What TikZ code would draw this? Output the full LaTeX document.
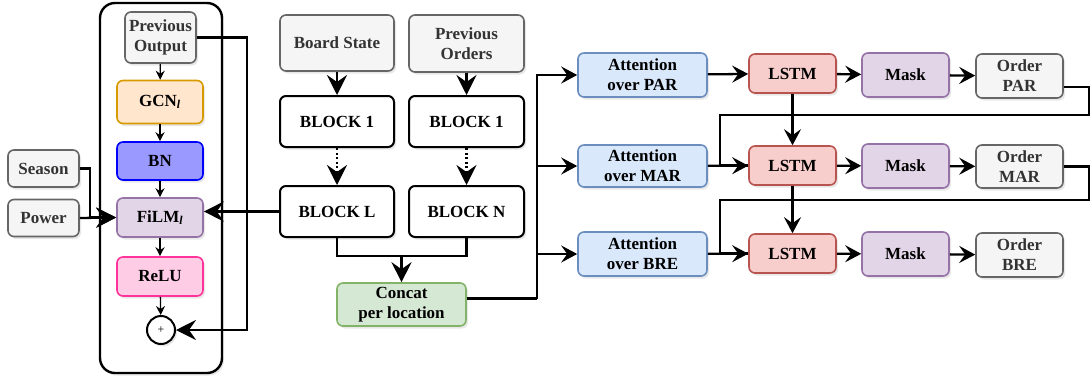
\documentclass[tikz,border=0pt]{standalone}
\usepackage{fontspec}
\setmainfont{Liberation Serif}
\usetikzlibrary{arrows.meta,shadows,calc}
\definecolor{grayfill}{HTML}{F5F5F5}
\definecolor{graydraw}{HTML}{666666}
\definecolor{graytext}{HTML}{333333}
\definecolor{orfill}{HTML}{FFE6CC}
\definecolor{ordraw}{HTML}{D79B00}
\definecolor{bnfill}{HTML}{9999FF}
\definecolor{bndraw}{HTML}{0000FF}
\definecolor{pufill}{HTML}{E1D5E7}
\definecolor{pudraw}{HTML}{9673A6}
\definecolor{pkfill}{HTML}{FFCCE6}
\definecolor{pkdraw}{HTML}{FF3399}
\definecolor{gnfill}{HTML}{D5E8D4}
\definecolor{gndraw}{HTML}{82B366}
\definecolor{blfill}{HTML}{DAE8FC}
\definecolor{bldraw}{HTML}{6C8EBF}
\definecolor{rdfill}{HTML}{F8CECC}
\definecolor{rddraw}{HTML}{B85450}
\begin{document}
\begin{tikzpicture}[x=1pt,y=-1pt,
  box/.style={draw, line width=1.6pt, rounded corners=6pt, align=center,
    font=\fontsize{17}{20}\selectfont\bfseries, inner sep=0pt,
    drop shadow={shadow xshift=2pt, shadow yshift=-2.5pt, opacity=0.18}},
  graybox/.style={box, fill=grayfill, draw=graydraw, text=graytext},
  orbox/.style={box, fill=orfill, draw=ordraw},
  bnbox/.style={box, fill=bnfill, draw=bndraw},
  pubox/.style={box, fill=pufill, draw=pudraw},
  pkbox/.style={box, fill=pkfill, draw=pkdraw},
  gnbox/.style={box, fill=gnfill, draw=gndraw},
  blbox/.style={box, fill=blfill, draw=bldraw},
  rdbox/.style={box, fill=rdfill, draw=rddraw},
  wbox/.style={box, fill=white, draw=black, line width=2pt},
  conn/.style={draw=black, line width=2.3pt},
  bigarr/.style={conn, -{Stealth[length=20pt,width=20pt,inset=7pt]}},
  medarr/.style={conn, -{Stealth[length=16pt,width=17pt,inset=6pt]}},
  smallarr/.style={draw=black, line width=1.3pt, -{Stealth[length=9pt,width=9pt,inset=3pt]}},
  dotarr/.style={bigarr, dash pattern=on 2pt off 2.5pt}
]
\useasboundingbox (0,0) rectangle (1090,381);

% container
\draw[line width=2.4pt, rounded corners=15pt, fill=white,
  drop shadow={shadow xshift=2pt, shadow yshift=-2.5pt, opacity=0.18}]
  (100,3) rectangle (222,373);

% left column
\node[graybox, minimum width=71, minimum height=51] (prevout) at (160.5,37.5) {Previous\\Output};
\node[orbox, minimum width=86, minimum height=43] (gcn) at (160,102) {GCN\textsubscript{\textit{l}}};
\node[bnbox, minimum width=86, minimum height=38] (bn) at (160,161) {BN};
\node[pubox, minimum width=86, minimum height=39] (film) at (160,217.5) {FiLM\textsubscript{\textit{l}}};
\node[pkbox, minimum width=86, minimum height=39] (relu) at (160,276.5) {ReLU};
\node[circle, draw, line width=2pt, fill=white, minimum size=28, inner sep=0pt,
  font=\fontsize{12}{12}\selectfont,
  drop shadow={shadow xshift=2pt, shadow yshift=-2.5pt, opacity=0.18}] (plus) at (161,330) {+};

\node[graybox, minimum width=71, minimum height=37] (season) at (43.5,168.5) {Season};
\node[graybox, minimum width=71, minimum height=37] (power) at (43.5,218) {Power};

% middle
\node[graybox, minimum width=114, minimum height=56] (board) at (337,43) {Board State};
\node[graybox, minimum width=115, minimum height=57] (prevord) at (466.5,43.5) {Previous\\Orders};
\node[wbox, minimum width=114, minimum height=51] (b1a) at (337,121.5) {BLOCK 1};
\node[wbox, minimum width=115, minimum height=51] (b1b) at (466.5,121.5) {BLOCK 1};
\node[wbox, minimum width=114, minimum height=51] (bL) at (337,211.5) {BLOCK L};
\node[wbox, minimum width=115, minimum height=51] (bN) at (466.5,211.5) {BLOCK N};
\node[gnbox, minimum width=129, minimum height=43] (concat) at (401.5,304.5) {Concat\\per location};

% right
\node[blbox, minimum width=129, minimum height=44] (apar) at (642.5,75) {Attention\\over PAR};
\node[blbox, minimum width=129, minimum height=42] (amar) at (642.5,166) {Attention\\over MAR};
\node[blbox, minimum width=129, minimum height=44] (abre) at (642.5,254) {Attention\\over BRE};
\node[rdbox, minimum width=87, minimum height=39] (lpar) at (792.5,73.5) {LSTM};
\node[rdbox, minimum width=87, minimum height=39] (lmar) at (792.5,165.5) {LSTM};
\node[rdbox, minimum width=87, minimum height=39] (lbre) at (792.5,253.5) {LSTM};
\node[pubox, minimum width=87, minimum height=44] (mpar) at (905.5,75) {Mask};
\node[pubox, minimum width=87, minimum height=44] (mmar) at (905.5,166) {Mask};
\node[pubox, minimum width=87, minimum height=44] (mbre) at (905.5,254) {Mask};
\node[graybox, minimum width=87, minimum height=44] (opar) at (1019.5,76) {Order\\PAR};
\node[graybox, minimum width=87, minimum height=43] (omar) at (1019.5,166.5) {Order\\MAR};
\node[graybox, minimum width=87, minimum height=44] (obre) at (1019.5,255) {Order\\BRE};

% left column connectors
\draw[smallarr] (prevout) -- (gcn);
\draw[smallarr] (gcn) -- (bn);
\draw[smallarr] (bn) -- (film);
\draw[smallarr] (film) -- (relu);
\draw[smallarr] (relu) -- (plus);
\draw[bigarr] (prevout.east) -- ++(50,0) |- (plus.east);
\draw[bigarr] (season.east) -- ++(10,0) |- (film.west);
\draw[bigarr] (power.east) -- (film.west);
\draw[bigarr] (bL.west) -- (bL.west -| film.east);

% middle connectors
\draw[bigarr] (board) -- (b1a);
\draw[bigarr] (prevord) -- (b1b);
\draw[dotarr] (b1a) -- (bL);
\draw[dotarr] (b1b) -- (bN);
\coordinate (m) at (401.5,256);
\draw[conn] (bL.south) |- (m) -| (bN.south);
\draw[bigarr] (m) -- (concat.north);

% bus
\draw[conn] ([yshift=6pt]concat.east) -- ++(70,0) coordinate (bus);
\draw[medarr] (bus) |- (apar.west);
\draw[medarr] (bus) |- (amar.west);
\draw[medarr] (bus) |- (abre.west);

% rows
\draw[medarr] (apar) -- (lpar);
\draw[medarr] (amar) -- (lmar);
\draw[medarr] (abre) -- (lbre);
\draw[medarr] (lpar) -- (mpar);
\draw[medarr] (lmar) -- (mmar);
\draw[medarr] (lbre) -- (mbre);
\draw[medarr] (mpar) -- (opar);
\draw[medarr] (mmar) -- (omar);
\draw[medarr] (mbre) -- (obre);
\draw[medarr] (lpar) -- (lmar);
\draw[medarr] (lmar) -- (lbre);

% feedback
\coordinate (fb1) at (720,115);
\coordinate (fb2) at (720,200);
\draw[conn] ([yshift=-11pt]opar.east) -- ++(25,0) |- (fb1) |- (lmar.west);
\draw[conn] (omar.east) -- ++(25,0) |- (fb2) |- (lbre.west);
\end{tikzpicture}
\end{document}
